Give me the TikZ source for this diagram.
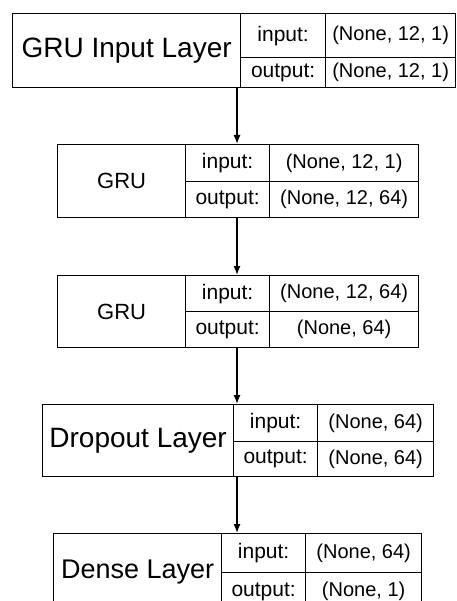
\documentclass[tikz,border=0pt]{standalone}
\usepackage{fontspec}
\setmainfont{Liberation Sans}
\usetikzlibrary{arrows.meta}
\tikzset{
	cell/.style={draw, line width=1.3pt, inner sep=0pt, anchor=north west},
	flow/.style={line width=1.3pt, -{Latex[length=9pt,width=7pt]}},
	keyfont/.style={font=\fontsize{21}{21}\selectfont},
	valfont/.style={font=\fontsize{20}{20}\selectfont},
}

\begin{document}
\begin{tikzpicture}[x=1pt,y=-1pt]
	\useasboundingbox (0,0) rectangle (456,601);
	\clip (0,0) rectangle (456,601);
	% one layer = name cell + 2x2 table
	\foreach \n/\t/\fs/\l/\a/\b/\r/\top/\mid/\bot/\vin/\vout in {
		1/GRU Input Layer/28/12/240/325/455/13/57/87/{(None, 12, 1)}/{(None, 12, 1)},
		2/GRU/22/57/185/269/418/144/181/217/{(None, 12, 1)}/{(None, 12, 64)},
		3/GRU/22/57/185/269/418/275/311/347/{(None, 12, 64)}/{(None, 64)},
		4/Dropout Layer/28/42/233/317/433/404/441/476/{(None, 64)}/{(None, 64)},
		5/Dense Layer/27/53/221/305/421/533/572/610/{(None, 64)}/{(None, 1)}}
	{
		\node[cell, minimum width={(\a-\l)*1pt}, minimum height={(\bot-\top)*1pt},
			font=\fontsize{\fs}{\fs}\selectfont] (name\n) at (\l,\top) {\t};
		\node[cell, keyfont, minimum width={(\b-\a)*1pt}, minimum height={(\mid-\top)*1pt}] (in\n) at (\a,\top) {input:};
		\node[cell, valfont, minimum width={(\r-\b)*1pt}, minimum height={(\mid-\top)*1pt}] (vin\n) at (\b,\top) {\vin};
		\node[cell, keyfont, minimum width={(\b-\a)*1pt}, minimum height={(\bot-\mid)*1pt}] (out\n) at (\a,\mid) {output:};
		\node[cell, valfont, minimum width={(\r-\b)*1pt}, minimum height={(\bot-\mid)*1pt}] (vout\n) at (\b,\mid) {\vout};
	}
	\coordinate (spine) at (237,0);
	\foreach \i [count=\j from 2] in {1,...,4}
		\draw[flow] (name\i.south -| spine) -- (name\j.north -| spine);
\end{tikzpicture}
\end{document}
